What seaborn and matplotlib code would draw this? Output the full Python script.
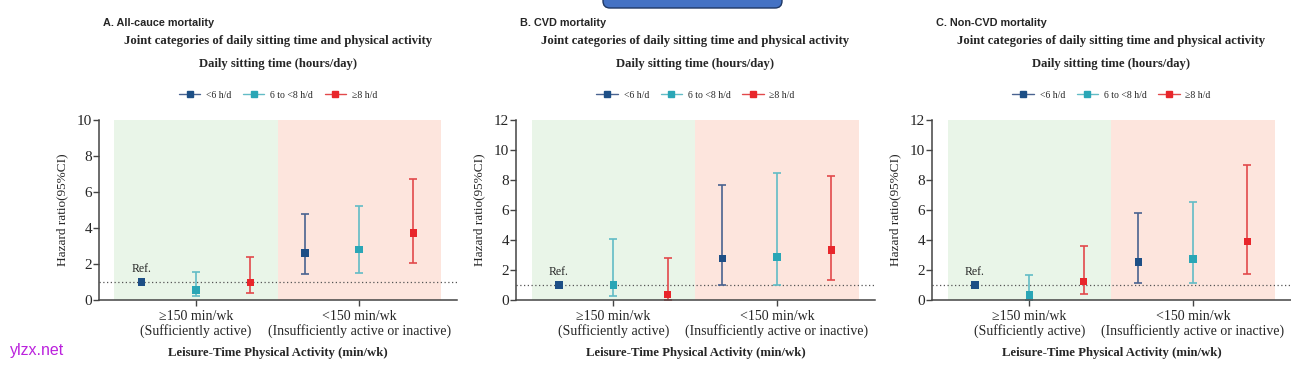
import numpy as np
import pandas as pd
import matplotlib
matplotlib.use("Agg")
import matplotlib.pyplot as plt
import seaborn as sns
from matplotlib.lines import Line2D
from matplotlib.patches import FancyBboxPatch
from matplotlib.transforms import IdentityTransform

# ---------------- data ----------------
activity_groups = ["\u2265150 min/wk\n(Sufficiently active)",
                   "<150 min/wk\n(Insufficiently active or inactive)"]
sitting_levels = ["<6 h/d", "6 to <8 h/d", "\u22658 h/d"]
panel_titles = ["A. All-cauce mortality", "B. CVD mortality", "C. Non-CVD mortality"]
y_max = [10, 12, 12]

# order: (grp0,<6), (grp0,6-8), (grp0,>=8), (grp1,<6), (grp1,6-8), (grp1,>=8)
hr_all = [1.00, 0.55, 0.97, 2.62, 2.80, 3.72]
lo_all = [1.00, 0.20, 0.40, 1.45, 1.50, 2.05]
hi_all = [1.00, 1.55, 2.40, 4.78, 5.25, 6.72]

hr_cvd = [1.00, 1.00, 0.38, 2.75, 2.86, 3.33]
lo_cvd = [1.00, 0.25, 0.00, 1.00, 1.00, 1.34]
hi_cvd = [1.00, 4.08, 2.80, 7.70, 8.44, 8.30]

hr_non = [1.00, 0.33, 1.23, 2.54, 2.74, 3.90]
lo_non = [1.00, 0.00, 0.42, 1.12, 1.16, 1.72]
hi_non = [1.00, 1.65, 3.57, 5.78, 6.52, 8.97]

panels = [(hr_all, lo_all, hi_all), (hr_cvd, lo_cvd, hi_cvd), (hr_non, lo_non, hi_non)]

# ---------------- style ----------------
sns.set_theme(style="ticks")
plt.rcParams["font.family"] = ["Liberation Serif", "DejaVu Serif"]

marker_colors = {"<6 h/d": "#1d4f86", "6 to <8 h/d": "#2aa6b6", "\u22658 h/d": "#e8262b"}
bar_colors = {"<6 h/d": "#4a6390", "6 to <8 h/d": "#62bcc6", "\u22658 h/d": "#e2494b"}
offsets = {"<6 h/d": -0.333, "6 to <8 h/d": 0.0, "\u22658 h/d": 0.333}

W, H = 1291, 365
fig = plt.figure(figsize=(W / 100, H / 100), dpi=100)

axes_px = [(99, 457), (516, 875), (932, 1291)]
y_top_px, y_bot_px = 120, 300

for i, ((hr, lo, hi), (x0, x1)) in enumerate(zip(panels, axes_px)):
    ax = fig.add_axes([x0 / W, 1 - y_bot_px / H, (x1 - x0) / W, (y_bot_px - y_top_px) / H])
    rows = []
    k = 0
    for g, grp in enumerate(activity_groups):
        for s in sitting_levels:
            rows.append(dict(group=grp, sitting=s, x=g + offsets[s],
                             hr=hr[k], lo=lo[k], hi=hi[k], ref=(k == 0)))
            k += 1
    df = pd.DataFrame(rows)

    # backgrounds
    ax.axvspan(-0.5, 0.5, color="#e9f5e8", zorder=0, lw=0)
    ax.axvspan(0.5, 1.5, color="#fde5dd", zorder=0, lw=0)
    ax.axhline(1, color="#555555", ls=(0, (1, 2)), lw=0.9, zorder=1)

    # error bars
    for _, r in df[~df.ref].iterrows():
        ax.errorbar(r.x, r.hr, yerr=[[r.hr - r.lo], [r.hi - r.hr]], fmt="none",
                    ecolor=bar_colors[r.sitting], elinewidth=1.2, capsize=3,
                    capthick=1.2, zorder=2)
    sns.scatterplot(data=df, x="x", y="hr", hue="sitting", hue_order=sitting_levels,
                    palette=marker_colors, marker="s", s=28, edgecolor="none",
                    legend=False, ax=ax, zorder=3)
    rr = df[df.ref].iloc[0]
    ax.annotate("Ref.", (rr.x, rr.hr), xytext=(0, 5), textcoords="offset points",
                ha="center", va="bottom", fontsize=8.5)

    ax.set_xlim(-0.595, 1.6)
    ax.set_ylim(0, y_max[i])
    ax.set_yticks(np.arange(0, y_max[i] + 1, 2))
    ax.set_xticks([0, 1])
    ax.set_xticklabels(activity_groups, fontsize=10, linespacing=1.1)
    ax.tick_params(axis="y", labelsize=11, length=4, width=1, color="#444444", pad=1)
    ax.tick_params(axis="x", length=4, width=1, color="#444444", pad=3)
    for sp in ["left", "bottom"]:
        ax.spines[sp].set_color("#444444")
        ax.spines[sp].set_linewidth(1.1)
    sns.despine(ax=ax)
    ax.set_xlabel("Leisure-Time Physical Activity (min/wk)", fontsize=9.2, fontweight="bold",
                  labelpad=7)
    ax.set_ylabel("Hazard ratio(95%CI)", fontsize=9.5, labelpad=6)

    cx = (x0 + x1) / 2 / W
    fig.text(x0 / W + 4 / W, 1 - 23 / H, panel_titles[i], fontsize=7.8, fontweight="bold",
             family=["Liberation Sans", "DejaVu Sans"], va="center", ha="left")
    fig.text(cx, 1 - 41 / H, "Joint categories of daily sitting time and physical activity",
             fontsize=9.2, fontweight="bold", ha="center", va="center")
    fig.text(cx, 1 - 64 / H, "Daily sitting time (hours/day)", fontsize=9.1,
             fontweight="bold", ha="center", va="center")

    handles = [Line2D([0], [0], color=bar_colors[s], lw=1, marker="s", markersize=4,
                      markerfacecolor=marker_colors[s], markeredgecolor=marker_colors[s])
               for s in sitting_levels]
    fig.legend(handles, sitting_levels, loc="center", bbox_to_anchor=(cx, 1 - 95 / H),
               ncol=3, frameon=False, fontsize=7, handlelength=2.2, columnspacing=1.2,
               handletextpad=0.6)

# decorative box at the top
box = FancyBboxPatch((603, H - 8), 179, 20, boxstyle="round,pad=0,rounding_size=7",
                     transform=IdentityTransform(), facecolor="#4472c4",
                     edgecolor="#1f3864", lw=1)
fig.patches.append(box)

fig.text(10 / W, 1 - 350 / H, "ylzx.net", color="#bb22dd", fontsize=11.5,
         family=["Liberation Sans", "DejaVu Sans"], va="center", ha="left")

fig.savefig("out.png", dpi=100)
